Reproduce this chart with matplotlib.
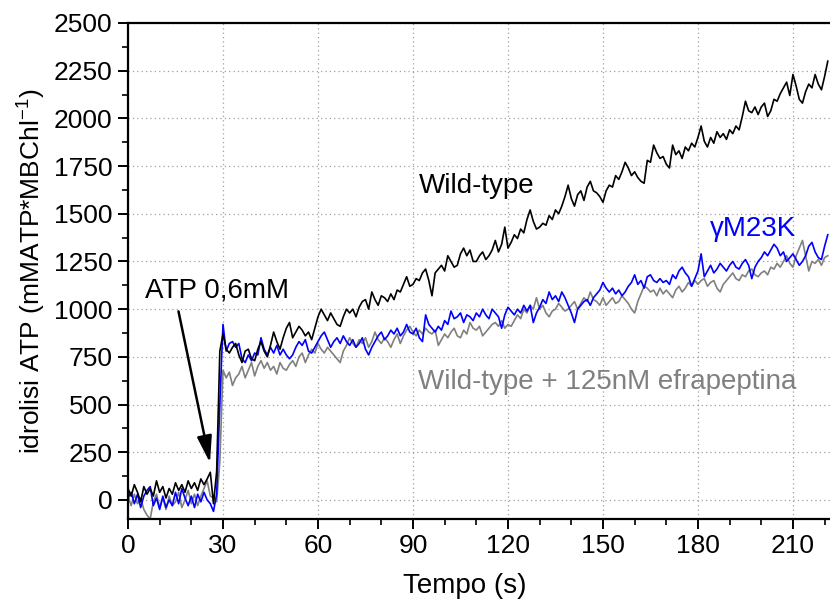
import numpy as np
import matplotlib
matplotlib.use("Agg")
import matplotlib.pyplot as plt
from matplotlib.ticker import MultipleLocator

plt.rcParams['font.family'] = ['Liberation Sans', 'DejaVu Sans']
plt.rcParams['mathtext.fontset'] = 'custom'
plt.rcParams['mathtext.rm'] = 'Liberation Sans'

# time grid (s), one reading per second
t = np.arange(0, 222)

# Wild-type (black)
wild_type = [
    60, 20, 80, 40, -10, 70, 30, 60, 20, 100,
    40, 70, 10, 60, 30, 90, 50, 80, 40, 100,
    60, 90, 50, 110, 80, 110, 145, -20, 150, 780,
    870, 790, 770, 800, 820, 760, 720, 780, 790, 740,
    730, 790, 830, 780, 750, 810, 880, 830, 790, 850,
    900, 930, 850, 880, 910, 890, 860, 880, 840, 900,
    960, 1000, 970, 940, 980, 950, 920, 910, 960, 1000,
    980, 1000, 960, 1010, 1040, 1050, 1000, 1090, 1050, 1020,
    1070, 1060, 1040, 1080, 1050, 1100, 1090, 1130, 1170, 1120,
    1130, 1160, 1150, 1190, 1210, 1150, 1070, 1190, 1210, 1230,
    1200, 1280, 1250, 1220, 1230, 1290, 1320, 1280, 1310, 1250,
    1250, 1280, 1300, 1260, 1280, 1310, 1360, 1300, 1340, 1430,
    1320, 1350, 1390, 1370, 1420, 1400, 1470, 1520, 1460, 1420,
    1430, 1450, 1440, 1490, 1470, 1520, 1500, 1540, 1590, 1650,
    1580, 1540, 1600, 1620, 1570, 1640, 1670, 1620, 1610, 1590,
    1560, 1620, 1650, 1640, 1700, 1680, 1720, 1770, 1740, 1700,
    1720, 1690, 1670, 1660, 1780, 1770, 1860, 1820, 1790, 1800,
    1760, 1740, 1860, 1810, 1830, 1790, 1850, 1830, 1870, 1850,
    1900, 1960, 1880, 1850, 1900, 1870, 1930, 1900, 1920, 1890,
    1940, 1920, 1960, 1940, 2010, 2090, 2040, 2030, 2060, 2020,
    2060, 2080, 2010, 2040, 2100, 2090, 2130, 2160, 2190, 2120,
    2230, 2170, 2100, 2080, 2140, 2180, 2160, 2230, 2180, 2150,
    2220, 2300,
]

# gamma M23K (blue)
m23k = [
    10, 40, -20, 30, -40, 20, 50, 70, -30, 10,
    -50, 20, -40, 0, -30, 40, -20, 60, 10, -30,
    20, -40, 30, -10, 40, 0, -20, -60, 30, 500,
    920, 780, 820, 830, 800, 820, 740, 720, 760, 730,
    770, 760, 850, 790, 760, 800, 770, 810, 760, 790,
    760, 740, 760, 800, 830, 810, 840, 780, 770, 800,
    830, 860, 880, 840, 800, 830, 850, 820, 860, 830,
    810, 840, 800, 820, 850, 790, 760, 800, 830, 860,
    880, 840, 860, 890, 870, 900, 860, 880, 920, 880,
    870, 900, 850, 830, 970, 920, 900, 880, 910, 890,
    940, 920, 990, 950, 960, 980, 930, 970, 960, 940,
    980, 960, 1000, 970, 950, 1000, 980, 960, 900, 970,
    1010, 990, 970, 1000, 980, 1020, 990, 1020, 930, 980,
    1010, 1050, 1030, 1090, 1050, 1070, 1040, 1090, 1060, 1020,
    980, 930, 1000, 1020, 1040, 1050, 1020, 1060, 1080, 1100,
    1140, 1110, 1090, 1110, 1080, 1100, 1070, 1090, 1120, 1140,
    1180, 1130, 1150, 1110, 1170, 1180, 1150, 1140, 1160, 1140,
    1150, 1130, 1180, 1160, 1200, 1220, 1190, 1170, 1120, 1160,
    1200, 1290, 1170, 1200, 1230, 1190, 1210, 1240, 1220, 1200,
    1230, 1250, 1220, 1210, 1240, 1260, 1230, 1160, 1220, 1250,
    1270, 1300, 1280, 1310, 1340, 1320, 1280, 1300, 1250, 1270,
    1290, 1260, 1230, 1250, 1280, 1330, 1350, 1300, 1270, 1260,
    1330, 1390,
]

# Wild-type + 125nM efrapeptina (grey)
efrapeptina = [
    20, -30, 30, -20, 10, -50, -80, -100, -10, 30,
    -40, 10, -50, 20, -30, -10, 40, -40, 0, 50,
    -20, 30, -30, 20, 60, 100, 20, 10, -10, 200,
    680, 640, 670, 600, 640, 660, 700, 640, 680, 720,
    650, 700, 730, 690, 720, 680, 700, 660, 720, 690,
    680, 710, 730, 700, 750, 770, 720, 760, 790, 770,
    820, 790, 770, 800, 780, 760, 740, 720, 780, 810,
    850, 820, 800, 840, 820, 850, 800, 830, 880, 840,
    820, 850, 830, 800, 840, 870, 820, 860, 890, 910,
    880, 860, 890, 870, 900, 880, 870, 890, 810, 840,
    870, 850, 880, 900, 860, 850, 890, 870, 930, 900,
    890, 910, 860, 880, 900, 920, 930, 910, 940, 900,
    920, 910, 940, 970, 950, 1000, 980, 1020, 1000, 1060,
    1000, 1020, 980, 960, 990, 1000, 1030, 1010, 990, 1000,
    1020, 1040, 1000, 1030, 1060, 1040, 1090, 1050, 1040, 1020,
    1060, 1020, 1040, 1060, 1030, 1040, 1070, 1050, 1030, 1000,
    980, 1040, 1080, 1120, 1110, 1090, 1100, 1070, 1110, 1080,
    1100, 1080, 1060, 1100, 1120, 1090, 1110, 1140, 1120, 1150,
    1130, 1150, 1160, 1120, 1140, 1150, 1110, 1090, 1130, 1150,
    1170, 1190, 1160, 1150, 1180, 1170, 1200, 1210, 1180, 1170,
    1190, 1200, 1180, 1220, 1210, 1240, 1220, 1250, 1280, 1240,
    1220, 1280, 1320, 1360, 1280, 1200, 1250, 1240, 1260, 1230,
    1270, 1280,
]

fig = plt.figure(figsize=(8.3, 6.0), dpi=100)
ax = fig.add_axes([128/830, 81/600, 702/830, 496/600])

ax.plot(t, efrapeptina, color='#808080', lw=1.2)
ax.plot(t, m23k, color='#0000ff', lw=1.2)
ax.plot(t, wild_type, color='black', lw=1.2)

ax.set_xlim(0, 221.7)
ax.set_ylim(-100, 2500)
ax.xaxis.set_major_locator(MultipleLocator(30))
ax.xaxis.set_minor_locator(MultipleLocator(10))
ax.yaxis.set_major_locator(MultipleLocator(250))
ax.yaxis.set_minor_locator(MultipleLocator(125))
ax.grid(True, which='major', color='#a0a0a0', linestyle=(0, (1, 2.5)), lw=0.9)

for s in ['left', 'bottom', 'top']:
    ax.spines[s].set_linewidth(1.6)
ax.spines['right'].set_visible(False)
ax.tick_params(which='major', direction='out', length=7, width=1.4, labelsize=19, pad=4)
ax.tick_params(which='minor', direction='out', length=4, width=1.2)

ax.set_xlabel('Tempo (s)', fontsize=20)
ax.xaxis.set_label_coords(0.479, -0.109)
ax.set_ylabel(r'idrolisi ATP (mMATP*MBChl$^{\mathregular{-1}}$)', fontsize=19)
ax.yaxis.set_label_coords(-0.115, 0.5)

ax.text(91.9, 1610, 'Wild-type', fontsize=20, color='black', va='baseline')
ax.text(183.8, 1384, 'γM23K', fontsize=20, color='#0000ff', va='baseline')
ax.text(91.6, 584, 'Wild-type + 125nM efrapeptina', fontsize=20, color='#808080', va='baseline')
ax.annotate('ATP 0,6mM', xy=(25.9, 195), xytext=(5.4, 1063), fontsize=20, va='baseline',
            arrowprops=dict(arrowstyle='-|>,head_length=0.9,head_width=0.25', color='black',
                            lw=1.8, mutation_scale=18, shrinkA=4, shrinkB=0, relpos=(0.22, 0)))

fig.savefig('out.png', dpi=100)
